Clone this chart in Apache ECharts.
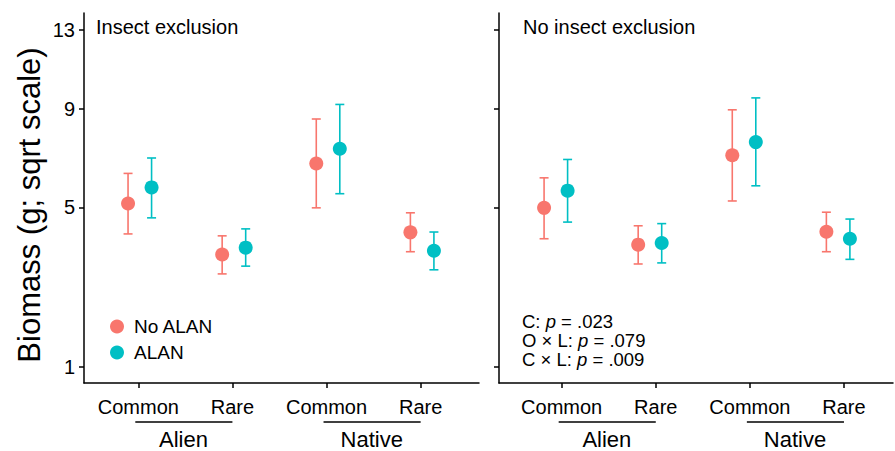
<!DOCTYPE html>
<html><head><meta charset="utf-8">
<script src="https://cdn.jsdelivr.net/npm/echarts@6/dist/echarts.min.js"></script>
<style>html,body{margin:0;padding:0;background:#fff}#c{width:895px;height:451px}</style>
</head><body><div id="c"></div>
<script>
// ---- data ----
const categories = ['Common', 'Rare', 'Common', 'Rare'];
const groups = ['Alien', 'Native'];
const groupSpans = [[1, 2], [3, 4]];
const yTicks = [1, 5, 9, 13];
const panelTitles = ['Insect exclusion', 'No insect exclusion'];
const seriesNames = ['No ALAN', 'ALAN'];

// Insect exclusion panel
const noAlanExcl   = [5.13, 3.50, 6.63, 4.17];
const noAlanExclLo = [4.12, 2.96, 4.98, 3.58];
const noAlanExclHi = [6.24, 4.06, 8.52, 4.81];
const alanExcl     = [5.71, 3.70, 7.23, 3.61];
const alanExclLo   = [4.64, 3.17, 5.48, 3.07];
const alanExclHi   = [6.85, 4.28, 9.19, 4.18];

// No insect exclusion panel
const noAlanOpen   = [4.98, 3.79, 6.96, 4.19];
const noAlanOpenLo = [3.97, 3.23, 5.22, 3.58];
const noAlanOpenHi = [6.07, 4.38, 8.94, 4.83];
const alanOpen     = [5.59, 3.84, 7.51, 3.97];
const alanOpenLo   = [4.50, 3.26, 5.77, 3.36];
const alanOpenHi   = [6.79, 4.45, 9.50, 4.60];

const statsText = 'C: {i|p} = .023\nO × L: {i|p} = .079\nC × L: {i|p} = .009';

// ---- styling / layout ----
const FONT = '"Liberation Sans", Arial, sans-serif';
const COLORS = ['#F8766D', '#00BFC4'];
const sq = Math.sqrt;
const Y_MIN = 0.8764, Y_MAX = 3.739;
const panels = [
  { left: 84, width: 395, xMin: 0.423, xMax: 4.62, shift: 0.016,
    sets: [[noAlanExcl, noAlanExclLo, noAlanExclHi], [alanExcl, alanExclLo, alanExclHi]] },
  { left: 499, width: 394, xMin: 0.334, xMax: 4.521, shift: -0.062,
    sets: [[noAlanOpen, noAlanOpenLo, noAlanOpenHi], [alanOpen, alanOpenLo, alanOpenHi]] }
];
const DODGE = 0.125;
const axisLineStyle = { color: '#000', width: 1.5 };

const grid = [], xAxis = [], yAxis = [], series = [];
panels.forEach((p, pi) => {
  grid.push({ left: p.left, top: 13, width: p.width, height: 370, outerBoundsMode: 'none' });
  xAxis.push({
    type: 'value', gridIndex: pi, min: p.xMin, max: p.xMax,
    axisLine: { show: true, onZero: false, lineStyle: axisLineStyle },
    axisTick: { show: true, length: 5, lineStyle: axisLineStyle, customValues: [1, 2, 3, 4] },
    axisLabel: { show: true, customValues: [1, 2, 3, 4], margin: 14,
      formatter: v => categories[Math.round(v) - 1],
      fontSize: 20, fontFamily: FONT, color: '#000' },
    splitLine: { show: false }
  });
  yAxis.push({
    type: 'value', gridIndex: pi, min: Y_MIN, max: Y_MAX,
    axisLine: { show: true, onZero: false, lineStyle: axisLineStyle },
    axisTick: { show: true, length: 5, lineStyle: axisLineStyle, customValues: yTicks.map(sq) },
    axisLabel: { show: pi === 0, customValues: yTicks.map(sq), margin: 9,
      formatter: v => String(Math.round(v * v)),
      fontSize: 20, fontFamily: FONT, color: '#000' },
    splitLine: { show: false },
    name: pi === 0 ? 'Biomass (g; sqrt scale)' : '',
    nameLocation: 'middle', nameGap: 39,
    nameTextStyle: { fontSize: 31, fontFamily: FONT, color: '#000', padding: [0, 14, 0, 0] }
  });
});
// group label axes
panels.forEach((p, pi) => {
  xAxis.push({
    type: 'value', gridIndex: pi, min: p.xMin, max: p.xMax, position: 'bottom',
    axisLine: { show: false }, axisTick: { show: false }, splitLine: { show: false },
    axisLabel: { show: true, customValues: groupSpans.map(s => (s[0] + s[1]) / 2 - 0.02), margin: 46,
      formatter: v => groups[v < 2.5 ? 0 : 1],
      fontSize: 22, lineHeight: 20, fontFamily: FONT, color: '#000' }
  });
});

panels.forEach((p, pi) => {
  p.sets.forEach((set, gi) => {
    const [mean, lo, hi] = set;
    const off = p.shift + (gi === 0 ? -DODGE : DODGE);
    const color = COLORS[gi];
    series.push({
      type: 'custom', name: seriesNames[gi], xAxisIndex: pi, yAxisIndex: pi,
      itemStyle: { color },
      data: categories.map((c, i) => [i + 1 + off, sq(lo[i]), sq(hi[i])]),
      encode: { x: 0, y: [1, 2] },
      z: 2, silent: true,
      renderItem: (params, api) => {
        const x = api.value(0);
        const a = api.coord([x, api.value(1)]);
        const b = api.coord([x, api.value(2)]);
        const w = 4.5;
        const st = { stroke: color, lineWidth: 1.6 };
        return { type: 'group', children: [
          { type: 'line', shape: { x1: a[0], y1: a[1], x2: b[0], y2: b[1] }, style: st },
          { type: 'line', shape: { x1: a[0] - w, y1: a[1], x2: a[0] + w, y2: a[1] }, style: st },
          { type: 'line', shape: { x1: b[0] - w, y1: b[1], x2: b[0] + w, y2: b[1] }, style: st }
        ]};
      }
    });
    series.push({
      type: 'scatter', name: seriesNames[gi], xAxisIndex: pi, yAxisIndex: pi,
      symbol: 'circle', symbolSize: 14, itemStyle: { color, opacity: 1 },
      data: mean.map((v, i) => [i + 1 + off, sq(v)]), z: 3, silent: true
    });
  });
  // group underlines
  series.push({
    type: 'custom', xAxisIndex: pi, yAxisIndex: pi, silent: true, clip: false,
    data: groupSpans, encode: { x: [0, 1] },
    renderItem: (params, api) => {
      const a = api.coord([api.value(0), Y_MIN]);
      const b = api.coord([api.value(1), Y_MIN]);
      const y = a[1] + 39;
      return { type: 'line', shape: { x1: a[0] - 3, y1: y, x2: b[0], y2: y },
        style: { stroke: '#000', lineWidth: 1.5 } };
    }
  });
});

const chart = echarts.init(document.getElementById('c'), null, { renderer: 'svg' });
chart.setOption({
  animation: false,
  backgroundColor: '#fff',
  title: [
    { text: panelTitles[0], left: 96, top: 17, padding: 0,
      textStyle: { fontSize: 20, fontWeight: 'normal', fontFamily: FONT, color: '#000' } },
    { text: panelTitles[1], left: 523, top: 17, padding: 0,
      textStyle: { fontSize: 20, fontWeight: 'normal', fontFamily: FONT, color: '#000' } },
    { text: statsText, left: 522, top: 312, padding: 0,
      textStyle: { fontSize: 18.5, lineHeight: 19, fontWeight: 'normal', fontFamily: FONT, color: '#000',
        rich: { i: { fontStyle: 'italic', fontSize: 18.5, lineHeight: 19, fontFamily: FONT, color: '#000' } } } }
  ],
  legend: {
    orient: 'vertical', left: 110, top: 317, itemWidth: 14, itemHeight: 14, itemGap: 7,
    icon: 'circle', data: seriesNames, selectedMode: false, padding: 0,
    textStyle: { fontSize: 19, fontFamily: FONT, color: '#000', padding: [0, 0, 0, 5] }
  },
  grid, xAxis, yAxis, series
});
</script>
</body></html>
